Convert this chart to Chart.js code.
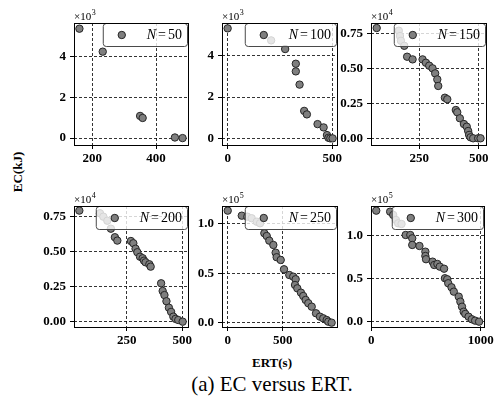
<!DOCTYPE html>
<html>
<head>
  <title>EC versus ERT</title>
  <script src="https://cdn.jsdelivr.net/npm/chart.js"></script>
  <style>
    body {
      margin: 0;
      background: #fff;
      width: 494px;
      height: 399px;
      overflow: hidden;
      position: relative;
      font-family: "Liberation Serif", serif;
    }
    canvas {
      position: absolute;
    }
    .lbl {
      position: absolute;
      transform: translate(-50%, -50%);
      white-space: nowrap;
      color: #000;
    }
  </style>
</head>
<body>
  <div class="lbl" style="left:18px;top:172px;font-weight:bold;font-size:13px;transform:translate(-50%,-50%) rotate(-90deg)">EC(kJ)</div>
  <div class="lbl" style="left:272px;top:363px;font-weight:bold;font-size:13px">ERT(s)</div>
  <div class="lbl" style="left:272px;top:384px;font-size:21px">(a) EC versus ERT.</div>

  <script>
    // one panel per swarm size N
    const nValues = [50, 100, 150, 200, 250, 300];

    // ERT (s) and EC (kJ)
    const ertN50 = [160, 233, 350, 358, 459, 483];
    const ecN50 = [5380, 4250, 1090, 990, 30, 0];

    const ertN100 = [0, 208, 275, 326, 326, 344, 366, 379, 430, 459, 475, 482, 491, 502];
    const ecN100 = [5320, 4740, 4320, 3610, 3240, 2600, 1330, 1160, 690, 530, 160, 30, 0, 0];

    const ertN150 = [71, 164, 169, 173, 187, 199, 222, 264, 278, 292, 306, 317, 326, 330, 358,
                     368, 404, 410, 421, 438, 450, 456, 460, 466, 477, 498, 508];
    const ecN150 = [7880, 7690, 7310, 6970, 6610, 5830, 5640, 5640, 5400, 5190, 5000, 4640, 4210, 3740, 2900,
                    2790, 2020, 1860, 1430, 1020, 830, 520, 240, 70, 0, 0, 0];

    const ertN200 = [37, 130, 145, 163, 179, 197, 208, 269, 280, 290, 298, 310, 322, 328, 335, 352, 358,
                     405, 412, 420, 429, 440, 450, 460, 470, 482, 502];
    const ecN200 = [7930, 7740, 7500, 7210, 6640, 6030, 5790, 5760, 5600, 5210, 4960, 4640, 4530, 4360, 4240, 4100, 3930,
                    2740, 2190, 1900, 1460, 1000, 700, 360, 200, 120, 0];

    const ertN250 = [0, 128, 178, 218, 264, 294, 333, 355, 378, 415, 436, 445, 482, 512, 560,
                     596, 618, 612, 633, 666, 687, 709, 733, 764, 803, 839, 869, 900, 915, 945];
    const ecN250 = [113500, 108400, 107400, 105800, 102300, 100700, 90600, 87800, 83100, 78700, 70900, 66300, 63500, 54100, 48300,
                    46600, 44000, 38200, 34800, 30400, 27000, 23000, 19700, 16200, 9500, 6100, 4400, 2700, 1000, 0];

    const ertN300 = [45, 172, 200, 225, 245, 276, 314, 356, 374, 374, 440, 494, 494, 500, 560, 575, 604,
                     626, 665, 673, 694, 703, 733, 754, 799, 814, 829, 844, 859, 889, 919, 949, 985];
    const ecN300 = [129100, 127900, 124100, 118300, 114400, 113600, 100800, 100800, 96900, 89200, 88000, 81400, 76400, 72600, 69800, 65900, 67100,
                    64000, 61600, 50500, 49300, 44700, 40000, 34900, 29100, 23300, 17400, 11600, 9000, 5800, 2800, 1200, 0];

    const ertSets = [ertN50, ertN100, ertN150, ertN200, ertN250, ertN300];
    const ecSets = [ecN50, ecN100, ecN150, ecN200, ecN250, ecN300];

    // tick labels
    const xTicks = [[200, 400], [0, 500], [250, 500], [250, 500], [0, 500], [0, 1000]];
    const yTicks = [[0, 2000, 4000], [0, 2000, 4000], [0, 2500, 5000, 7500],
                    [0, 2500, 5000, 7500], [0, 50000, 100000], [0, 50000, 100000]];
    const yExp = [3, 3, 4, 4, 5, 5];
    const yDecimals = [0, 0, 2, 2, 1, 1];

    // axis limits
    const xLimits = [[143, 500], [-27, 523], [47, 531], [13, 526], [-52, 994], [-3, 1030]];
    const yLimits = [[-340, 5660], [-320, 5580], [-480, 8240], [-380, 8260], [-4400, 118200], [-6200, 134500]];

    // plot boxes in page pixels
    const colLeft = [74, 222, 371];
    const colWidth = [114, 115, 115];
    const rowTop = [23, 206];
    const rowHeight = [122, 121];

    const SERIF = "'Liberation Serif', serif";
    const PAD_L = 52, PAD_T = 22, PAD_R = 10, PAD_B = 26;
    const R = 3.7;

    function marker(ctx, x, y) {
      ctx.beginPath();
      ctx.arc(x, y, R, 0, Math.PI * 2);
      ctx.fillStyle = '#7f7f7f';
      ctx.fill();
      ctx.lineWidth = 1;
      ctx.strokeStyle = '#262626';
      ctx.stroke();
    }

    const deco = {
      id: 'deco',
      afterDatasetsDraw(chart, args, opts) {
        const ctx = chart.ctx;
        const a = chart.chartArea;
        ctx.save();
        // legend box, top right, semi transparent like matplotlib
        ctx.font = 'italic 14px ' + SERIF;
        const wN = ctx.measureText('N').width;
        ctx.font = '14px ' + SERIF;
        const wEq = ctx.measureText('=').width;
        const num = String(opts.n);
        const wNum = ctx.measureText(num).width;
        const gap = 2;
        const tw = wN + gap + wEq + gap + wNum;
        const bw = 44 + tw + 5;
        const bh = 23;
        const bx = a.right - 1 - bw, by = a.top;
        ctx.beginPath();
        ctx.roundRect(bx + 0.5, by + 0.5, bw, bh, 3);
        ctx.fillStyle = 'rgba(255,255,255,0.8)';
        ctx.fill();
        ctx.strokeStyle = '#4a4a4a';
        ctx.lineWidth = 1;
        ctx.stroke();
        marker(ctx, bx + 19, by + 12);
        ctx.fillStyle = '#000';
        ctx.textBaseline = 'middle';
        ctx.textAlign = 'left';
        let tx = bx + 44;
        ctx.font = 'italic 14px ' + SERIF;
        ctx.fillText('N', tx, by + 12);
        tx += wN + gap;
        ctx.font = '14px ' + SERIF;
        ctx.fillText('=', tx, by + 12);
        tx += wEq + gap;
        ctx.fillText(num, tx, by + 12);
        ctx.restore();
      },
      afterDraw(chart, args, opts) {
        const ctx = chart.ctx;
        const a = chart.chartArea;
        ctx.save();
        ctx.strokeStyle = '#000';
        ctx.lineWidth = 1;
        ctx.setLineDash([]);
        ctx.strokeRect(Math.round(a.left) + 0.5, Math.round(a.top) + 0.5,
                       Math.round(a.right - a.left), Math.round(a.bottom - a.top));
        // offset text  x10^n
        ctx.fillStyle = '#000';
        ctx.textBaseline = 'alphabetic';
        ctx.textAlign = 'left';
        ctx.font = '11px ' + SERIF;
        const t = '\u00d710';
        ctx.fillText(t, a.left, a.top - 3);
        const w = ctx.measureText(t).width;
        ctx.font = '8px ' + SERIF;
        ctx.fillText(String(opts.exp), a.left + w + 0.5, a.top - 8);
        ctx.restore();
      }
    };

    const tickFont = { family: SERIF, size: 13, weight: 'bold' };

    nValues.forEach((n, i) => {
      const col = i % 3, row = Math.floor(i / 3);
      const cv = document.createElement('canvas');
      const w = colWidth[col] + PAD_L + PAD_R;
      const h = rowHeight[row] + PAD_T + PAD_B;
      cv.width = w;
      cv.height = h;
      cv.style.left = (colLeft[col] - PAD_L) + 'px';
      cv.style.top = (rowTop[row] - PAD_T) + 'px';
      cv.style.width = w + 'px';
      cv.style.height = h + 'px';
      document.body.appendChild(cv);

      const ert = ertSets[i], ec = ecSets[i];
      const xt = xTicks[i], yt = yTicks[i];
      const scaleDiv = Math.pow(10, yExp[i]);
      const dec = yDecimals[i];

      const grid = {
        color: '#000',
        lineWidth: 0.8,
        drawTicks: true,
        tickLength: 4,
        tickColor: '#000',
        tickWidth: 1,
        tickBorderDash: []
      };

      new Chart(cv, {
        type: 'scatter',
        data: {
          datasets: [{
            data: ert.map((x, k) => ({ x: x, y: ec[k] })),
            backgroundColor: '#7f7f7f',
            borderColor: '#262626',
            borderWidth: 1,
            pointRadius: R
          }]
        },
        options: {
          responsive: false,
          animation: false,
          devicePixelRatio: 1,
          events: [],
          layout: { padding: { top: PAD_T, right: PAD_R, left: 0, bottom: 0 } },
          plugins: {
            legend: { display: false },
            tooltip: { enabled: false },
            deco: { n: n, exp: yExp[i] }
          },
          scales: {
            x: {
              type: 'linear',
              min: xLimits[i][0],
              max: xLimits[i][1],
              afterBuildTicks: s => { s.ticks = xt.map(v => ({ value: v })); },
              afterFit: s => { s.height = PAD_B; },
              grid: grid,
              border: { display: false, dash: [3, 2] },
              ticks: {
                font: tickFont, color: '#000', padding: 2,
                maxRotation: 0, autoSkip: false,
                callback: v => String(v)
              }
            },
            y: {
              type: 'linear',
              min: yLimits[i][0],
              max: yLimits[i][1],
              afterBuildTicks: s => { s.ticks = yt.map(v => ({ value: v })); },
              afterFit: s => { s.width = PAD_L; },
              grid: grid,
              border: { display: false, dash: [3, 2] },
              ticks: {
                font: tickFont, color: '#000', padding: 4,
                autoSkip: false,
                callback: v => (v / scaleDiv).toFixed(dec)
              }
            }
          }
        },
        plugins: [deco]
      });
    });
  </script>
</body>
</html>
